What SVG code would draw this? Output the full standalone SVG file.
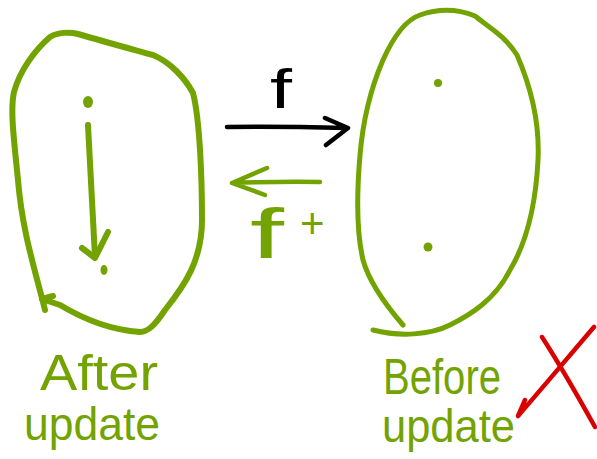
<svg xmlns="http://www.w3.org/2000/svg" width="597" height="459" viewBox="0 0 597 459">
<style>
.g{fill:none;stroke:#72a300;stroke-linecap:round;stroke-linejoin:round}
.k{fill:none;stroke:#000;stroke-width:4.5;stroke-linecap:round;stroke-linejoin:round}
.r{fill:none;stroke:#d90000;stroke-width:4.5;stroke-linecap:round;stroke-linejoin:round}
.dot{fill:#72a300}
.lbl{font-family:"Liberation Sans",Arial,sans-serif;fill:#72a300}
</style>
<rect width="597" height="459" fill="#fff"/>
<g id="after-set">
<path class="g" stroke-width="6" d="M45,310 C35,270 22,230 18,180 C14,140 10,110 14,92 C20,70 35,50 50,37 C58,32 70,32 78,34 C105,42 135,50 153,55 C170,62 185,78 193,93 C200,120 202,180 202,220 C202,260 185,285 165,310 C155,325 148,332 140,332 C110,330 85,320 60,305 L42,299"/>
<path class="g" stroke-width="6" d="M42,299 L53,296"/>
<ellipse class="dot" cx="88" cy="102" rx="5" ry="6"/>
<path class="g" stroke-width="6" d="M88,125 C90,170 93,215 95,257"/>
<path class="g" stroke-width="6" d="M82,248 L95,258 L108,232"/>
<ellipse class="dot" cx="104" cy="270" rx="3.5" ry="5"/>
</g>
<g id="before-set">
<path class="g" stroke-width="5" d="M403,325 C390,310 370,285 363,260 C356,230 357,190 360,155 C363,120 370,90 383,60 C392,40 405,20 420,15 C440,8 460,10 475,16 C490,28 505,36 517,55 C530,85 540,120 538,160 C536,200 528,240 510,270 C495,300 470,315 450,325 C430,335 400,337 373,330"/>
<circle class="dot" cx="438" cy="83" r="4"/>
<circle class="dot" cx="428" cy="247" r="4.5"/>
</g>
<g id="connectors">
<path class="k" d="M227,127 C270,126 310,127 347,128 M325,118 L348,128 L326,145"/>
<path class="g" stroke-width="4.5" d="M320,182 C290,181 260,182 232,183 M267,168 L232,183 L265,195"/>
</g>
<g id="labels">
<text x="270" y="108" font-family="Liberation Sans,Arial,sans-serif" font-size="56" fill="#000" textLength="22" lengthAdjust="spacingAndGlyphs">f</text>
<text class="lbl" x="250" y="258" font-size="70" textLength="34" lengthAdjust="spacingAndGlyphs">f</text>
<text class="lbl" x="300" y="238" font-size="42">+</text>
<text class="lbl" x="40" y="390" font-size="50" textLength="118" lengthAdjust="spacingAndGlyphs">After</text>
<text class="lbl" x="24" y="440" font-size="46" textLength="136" lengthAdjust="spacingAndGlyphs">update</text>
<text class="lbl" x="383" y="394" font-size="50" textLength="118" lengthAdjust="spacingAndGlyphs">Before</text>
<text class="lbl" x="382" y="442" font-size="46" textLength="133" lengthAdjust="spacingAndGlyphs">update</text>
</g>
<g id="cross">
<path class="r" d="M542,337 C560,365 580,400 595,427"/>
<path class="r" d="M594,327 C570,355 545,385 518,416 L525,400"/>
</g>
</svg>
